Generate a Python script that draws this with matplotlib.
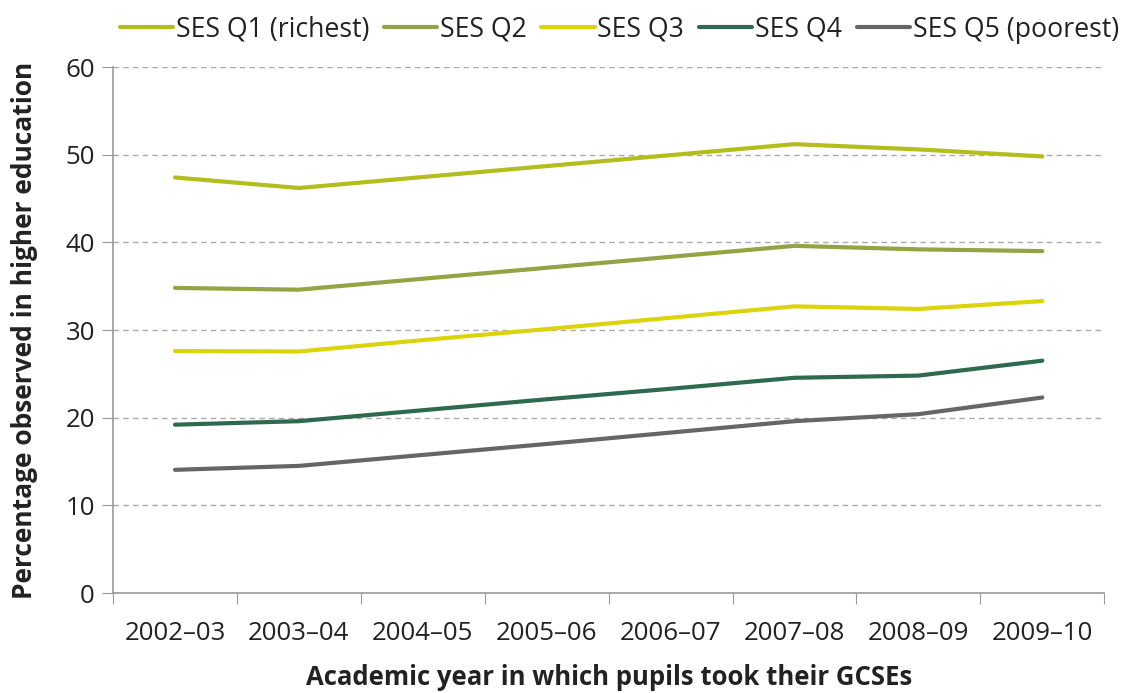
import matplotlib.pyplot as plt

plt.rcParams['font.family'] = ['Open Sans', 'DejaVu Sans']

years = ['2002–03', '2003–04', '2004–05', '2005–06', '2006–07', '2007–08', '2008–09', '2009–10']

q1 = [47.4, 46.2, 47.45, 48.7, 49.95, 51.2, 50.6, 49.8]
q2 = [34.8, 34.6, 35.85, 37.1, 38.35, 39.6, 39.2, 39.0]
q3 = [27.6, 27.55, 28.85, 30.1, 31.4, 32.7, 32.4, 33.3]
q4 = [19.2, 19.6, 20.85, 22.1, 23.3, 24.55, 24.8, 26.5]
q5 = [14.05, 14.5, 15.75, 17.0, 18.3, 19.6, 20.4, 22.3]

labels = ['SES Q1 (richest)', 'SES Q2', 'SES Q3', 'SES Q4', 'SES Q5 (poorest)']
colors = ['#B3BE1E', '#92A443', '#DCD40B', '#2E6A4E', '#666666']

fig = plt.figure(figsize=(11.26, 6.93), dpi=100)
ax = fig.add_axes([0.1004, 0.1443, 0.8803, 0.759])

x = range(len(years))
for vals, lab, col in zip([q1, q2, q3, q4, q5], labels, colors):
    ax.plot(x, vals, color=col, lw=3, label=lab, solid_capstyle='round')

ax.set_xlim(-0.5, len(years) - 0.5)
ax.set_ylim(0, 60)
ax.set_yticks(range(0, 61, 10))
# boundary ticks between years, labels centred on each year
ax.set_xticks([i - 0.5 for i in range(len(years) + 1)], minor=False)
ax.set_xticklabels([])
ax.set_xticks(list(x), minor=True)
ax.set_xticklabels(years, minor=True)
ax.tick_params(axis='x', which='major', length=8, color='#999999', direction='out')
ax.tick_params(axis='x', which='minor', length=0, pad=20, labelsize=18.6, labelcolor='#222222')
ax.tick_params(axis='y', length=8, color='#999999', labelsize=18.6, labelcolor='#222222', pad=5)

ax.yaxis.grid(True, color='#aaaaaa', linestyle=(0, (4, 3)), lw=1)
ax.set_axisbelow(True)
for s in ['top', 'right']:
    ax.spines[s].set_visible(False)
for s in ['left', 'bottom']:
    ax.spines[s].set_color('#999999')
    ax.spines[s].set_linewidth(1.2)

ax.set_xlabel('Academic year in which pupils took their GCSEs', fontsize=18.5,
              fontweight='bold', color='#222222', labelpad=13)
ax.set_ylabel('Percentage observed in higher education', fontsize=19,
              fontweight='bold', color='#222222', labelpad=20)

fig.legend(loc='upper center', bbox_to_anchor=(0.55, 1.012), ncol=5, frameon=False,
           fontsize=19.2, handlelength=2.0, handletextpad=0.1, columnspacing=0.55,
           labelcolor='#222222')

fig.savefig('out.png', dpi=100)
